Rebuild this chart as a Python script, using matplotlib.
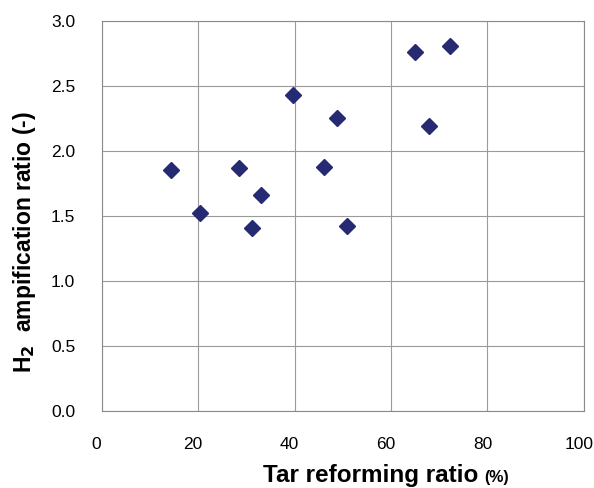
import numpy as np
import matplotlib.pyplot as plt
import matplotlib.transforms as mtransforms

plt.rcParams['font.family'] = ['Liberation Sans', 'DejaVu Sans']

# tar reforming ratio (%) vs H2 amplification ratio (-)
tar_reforming = [14.4, 20.4, 28.5, 31.2, 33.0, 39.7, 46.1, 48.8, 50.8, 65.0, 67.8, 72.3]
h2_ratio = [1.85, 1.52, 1.87, 1.41, 1.66, 2.43, 1.88, 2.25, 1.42, 2.76, 2.19, 2.81]

x_ticks = [0, 20, 40, 60, 80, 100]
y_ticks = [0.0, 0.5, 1.0, 1.5, 2.0, 2.5, 3.0]

fig = plt.figure(figsize=(5.94, 4.88), dpi=100)
ax = fig.add_axes([0.171, 0.158, 0.812, 0.799])

ax.plot(tar_reforming, h2_ratio, 'D', color='#262a72', markersize=8, zorder=3)

ax.set_xlim(0, 100)
ax.set_ylim(0, 3.0)
ax.set_xticks(x_ticks)
ax.set_yticks(y_ticks)
ax.set_yticklabels(['%.1f' % v for v in y_ticks])
ax.grid(True, color='#9a9a9a', linewidth=0.8)
ax.tick_params(length=0, labelsize=12.5, pad=19)
ax.tick_params(axis='y', pad=19)
for s in ax.spines.values():
    s.set_color('#8a8a8a')
    s.set_linewidth(0.8)

# x tick labels sit slightly left of the grid lines in the original
shift = mtransforms.ScaledTranslation(-0.05, 0, fig.dpi_scale_trans)
for lbl in ax.get_xticklabels():
    lbl.set_transform(lbl.get_transform() + shift)

# axis labels
fig.text(0.805, 0.025, 'Tar reforming ratio', fontsize=17.5, fontweight='bold',
         ha='right', va='center')
fig.text(0.816, 0.022, '(%)', fontsize=11.5, fontweight='bold', ha='left', va='center')
fig.text(0.042, 0.504, 'H$_\\mathbf{2}$  ampification ratio (-)', fontsize=16.5,
         fontweight='bold', rotation=90, ha='center', va='center')

fig.savefig('out.png', dpi=100)
